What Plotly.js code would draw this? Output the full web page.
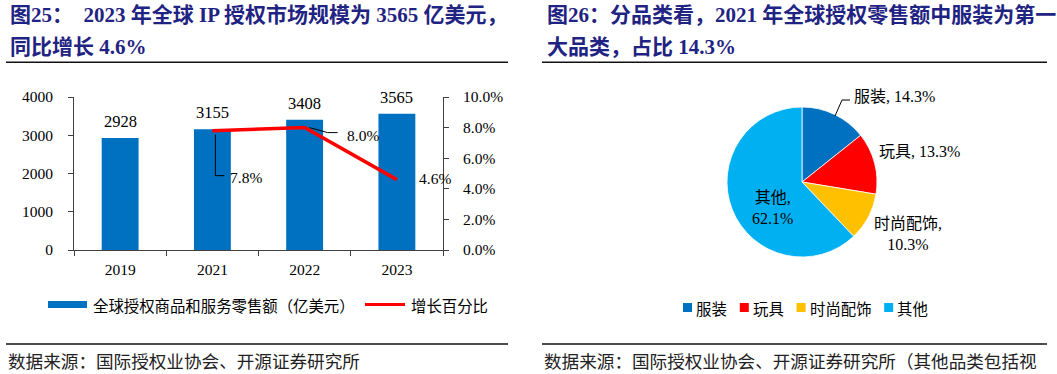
<!DOCTYPE html>
<html>
<head>
<meta charset="utf-8">
<script src="https://cdn.plot.ly/plotly-3.0.1.min.js"></script>
<style>
html,body{margin:0;padding:0;background:#fff;}
#chart{width:1057px;height:374px;}
</style>
</head>
<body>
<div id="chart"></div>
<script>
// ---------- data ----------
const years = ['2019', '2021', '2022', '2023'];
const retailSales = [2928, 3155, 3408, 3565];          // 亿美元
const growthYears = ['2021', '2022', '2023'];
const growthRate = [0.078, 0.080, 0.046];              // 增长百分比
const barName = '全球授权商品和服务零售额（亿美元）';
const lineName = '增长百分比';

const pieCats = ['服装', '玩具', '时尚配饰', '其他'];
const pieShares = [14.3, 13.3, 10.3, 62.1];            // %

const title1a = '图25：  2023 年全球 IP 授权市场规模为 3565 亿美元，';
const title1b = '同比增长 4.6%';
const title2a = '图26：分品类看，2021 年全球授权零售额中服装为第一';
const title2b = '大品类，占比 14.3%';
const source1 = '数据来源：国际授权业协会、开源证券研究所';
const source2 = '数据来源：国际授权业协会、开源证券研究所（其他品类包括视';

// ---------- helpers ----------
const W = 1057, H = 374;
const X = p => p / W;
const Y = p => 1 - p / H;
const SERIF = 'Liberation Serif, Noto Sans CJK SC, serif';
const CJK = 'Noto Sans CJK SC, sans-serif';
const TITLE_COLOR = '#1F2382';
const AXIS_COLOR = '#404040';
const pieColors = ['#0070C0', '#FF0000', '#FFC000', '#00B0F0'];
const catIndex = yr => years.indexOf(yr);

// ---------- traces ----------
const traces = [
  {
    type: 'bar', x: years, y: retailSales, name: barName,
    marker: {color: '#0070C0'}, xaxis: 'x', yaxis: 'y',
    hoverinfo: 'none', showlegend: false
  },
  {
    type: 'scatter', mode: 'lines', x: growthYears, y: growthRate, name: lineName,
    line: {color: '#FF0000', width: 3.5}, xaxis: 'x', yaxis: 'y2',
    hoverinfo: 'none', showlegend: false
  },
  {
    type: 'pie', labels: pieCats, values: pieShares, sort: false,
    direction: 'clockwise', rotation: 0, textinfo: 'none',
    marker: {colors: pieColors, line: {color: '#ffffff', width: 0.8}},
    domain: {x: [X(727), X(877)], y: [Y(257), Y(107)]},
    hoverinfo: 'none', showlegend: false
  }
];

// ---------- annotations ----------
const ann = [];
function txt(x, y, text, opt) {
  ann.push(Object.assign({
    xref: 'paper', yref: 'paper', x: X(x), y: Y(y), text: text,
    showarrow: false, xanchor: 'left', yanchor: 'middle',
    font: {family: SERIF, size: 15.5, color: '#000'}
  }, opt || {}));
}

// titles
const tfont = {family: SERIF, size: 21, color: TITLE_COLOR};
txt(8, 15, '<b>' + title1a + '</b>', {font: tfont});
txt(8, 47, '<b>' + title1b + '</b>', {font: tfont});
txt(545, 15, '<b>' + title2a + '</b>', {font: tfont});
txt(545, 47, '<b>' + title2b + '</b>', {font: tfont});

// sources
const sfont = {family: CJK, size: 17.6, color: '#222'};
txt(6, 360, source1, {font: sfont});
txt(542, 360, source2, {font: sfont});

// bar value labels
years.forEach((yr, i) => {
  ann.push({
    xref: 'x', yref: 'y', x: catIndex(yr), y: retailSales[i], text: String(retailSales[i]),
    showarrow: false, xanchor: 'center', yanchor: 'bottom', yshift: 5,
    font: {family: SERIF, size: 16.5, color: '#000'}
  });
});

// growth labels
const gOff = [[16, -47], [40, -8], [20, 1]];
growthYears.forEach((yr, i) => {
  ann.push({
    xref: 'x', yref: 'y2', x: catIndex(yr), y: growthRate[i],
    text: (growthRate[i] * 100).toFixed(1) + '%',
    showarrow: false, xanchor: 'left', yanchor: 'middle',
    xshift: gOff[i][0], yshift: gOff[i][1],
    font: {family: SERIF, size: 15.5, color: '#000'}
  });
});

// left legend
const lfont = {family: CJK, size: 15.4, color: '#000'};
txt(91, 304.5, barName, {font: lfont});
txt(409, 304.5, lineName, {font: lfont});

// pie labels
const pfont = {family: SERIF, size: 16, color: '#000'};
const pieLabelText = i => pieCats[i] + ', ' + pieShares[i].toFixed(1) + '%';
const pieLabelText2 = i => pieCats[i] + ',<br>' + pieShares[i].toFixed(1) + '%';
txt(852, 97, pieLabelText(0), {font: pfont});
txt(877, 151, pieLabelText(1), {font: pfont});
txt(908, 233.5, pieLabelText2(2), {font: pfont, xanchor: 'center'});
txt(772, 207.5, pieLabelText2(3), {font: pfont, xanchor: 'center'});

// pie legend
const pleg = [];
let lx = 683;
pieCats.forEach((c, i) => {
  pleg.push({type: 'rect', xref: 'paper', yref: 'paper',
    x0: X(lx), x1: X(lx + 9), y0: Y(312), y1: Y(303),
    fillcolor: pieColors[i], line: {width: 0}});
  txt(lx + 11, 307.5, c, {font: lfont});
  lx += 12 + 15.4 * c.length + 14;
});

// ---------- shapes ----------
const hline = (x0, x1, y, w) => ({type: 'line', xref: 'paper', yref: 'paper',
  x0: X(x0), x1: X(x1), y0: Y(y), y1: Y(y), line: {color: '#111', width: w}});
const shapes = [
  hline(6, 508, 62.3, 1.4), hline(542, 1047, 62.3, 1.4),
  hline(6, 508, 344, 1.4), hline(542, 1047, 344, 1.4),
  // left legend symbols
  {type: 'rect', xref: 'paper', yref: 'paper', x0: X(48), x1: X(87), y0: Y(308), y1: Y(301),
   fillcolor: '#0070C0', line: {width: 0}},
  {type: 'line', xref: 'paper', yref: 'paper', x0: X(365), x1: X(405), y0: Y(304.5), y1: Y(304.5),
   line: {color: '#FF0000', width: 3}},
  // leader lines for growth labels
  {type: 'path', xref: 'x', yref: 'y2', xsizemode: 'pixel', ysizemode: 'pixel',
   xanchor: catIndex(growthYears[0]), yanchor: growthRate[0],
   path: 'M3,-4 L3,-45 L12,-45', line: {color: '#000', width: 1}},
  {type: 'path', xref: 'x', yref: 'y2', xsizemode: 'pixel', ysizemode: 'pixel',
   xanchor: catIndex(growthYears[1]), yanchor: growthRate[1],
   path: 'M5,0 L23,-5 L33,-5', line: {color: '#000', width: 1}},
  // pie leader for first slice
  {type: 'path', xref: 'paper', yref: 'paper',
   path: 'M' + X(835) + ',' + Y(116) + ' L' + X(842) + ',' + Y(100) + ' L' + X(850) + ',' + Y(100),
   line: {color: '#000', width: 1}}
].concat(pleg);

// ---------- layout ----------
const tickFont = {family: SERIF, size: 15.5, color: '#000'};
const layout = {
  width: W, height: H,
  margin: {l: 0, r: 0, t: 0, b: 0},
  paper_bgcolor: '#fff', plot_bgcolor: '#fff',
  showlegend: false,
  bargap: 0.6,
  xaxis: {
    domain: [X(74), X(443)], anchor: 'y', type: 'category',
    categoryorder: 'array', categoryarray: years, range: [-0.5, 3.5],
    showline: true, linecolor: AXIS_COLOR, linewidth: 1,
    ticks: 'outside', tickson: 'boundaries', ticklen: 5, tickcolor: AXIS_COLOR,
    ticklabelstandoff: 5,
    tickfont: tickFont, showgrid: false, zeroline: false, fixedrange: true
  },
  yaxis: {
    domain: [Y(250), Y(97)], anchor: 'x', range: [0, 4000], dtick: 1000,
    showline: true, linecolor: AXIS_COLOR, linewidth: 1,
    ticks: 'outside', ticklen: 5, tickcolor: AXIS_COLOR, ticklabelstandoff: 12,
    tickfont: tickFont, showgrid: false, zeroline: false, fixedrange: true
  },
  yaxis2: {
    overlaying: 'y', side: 'right', anchor: 'x', range: [0, 0.1], dtick: 0.02,
    tickformat: '.1%',
    showline: true, linecolor: AXIS_COLOR, linewidth: 1,
    ticks: 'outside', ticklen: 5, tickcolor: AXIS_COLOR, ticklabelstandoff: 11,
    tickfont: tickFont, showgrid: false, zeroline: false, fixedrange: true
  },
  annotations: ann,
  shapes: shapes
};

Plotly.newPlot('chart', traces, layout, {displayModeBar: false, staticPlot: true});
</script>
</body>
</html>
